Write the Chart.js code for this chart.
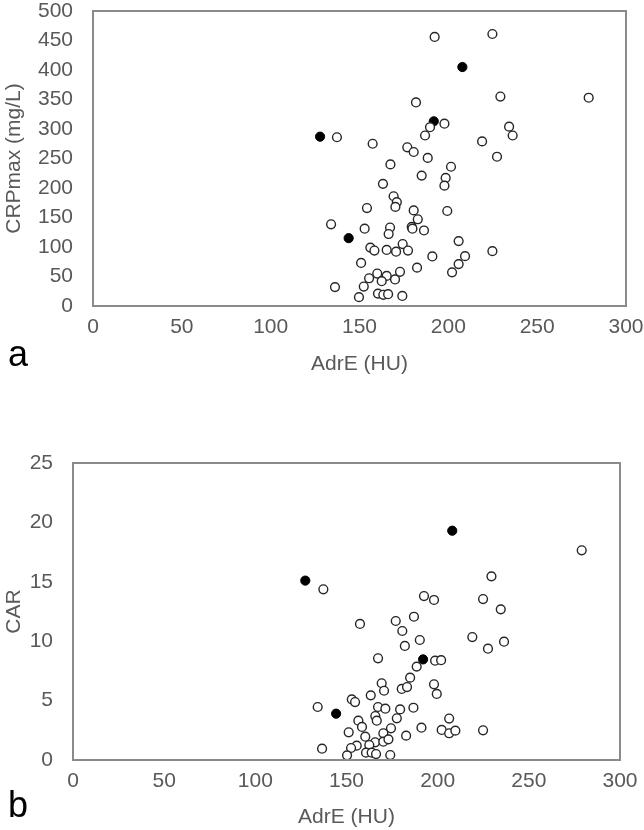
<!DOCTYPE html>
<html>
<head>
<meta charset="utf-8">
<script src="https://cdn.jsdelivr.net/npm/chart.js@4/dist/chart.umd.min.js"></script>
<style>
  body { margin: 0; background: #fff; }
  #wrap { position: relative; width: 644px; height: 830px; overflow: hidden; }
  canvas { position: absolute; left: 0; }
  .panel { position: absolute; font-family: "Liberation Sans", Arial, sans-serif; font-size: 36px; line-height: 36px; color: #000; }
</style>
</head>
<body>
<div id="wrap">
  <canvas id="chartA" width="644" height="380" style="top:0"></canvas>
  <canvas id="chartB" width="644" height="400" style="top:430px"></canvas>
  <div class="panel" style="left:8px; top:336px">a</div>
  <div class="panel" style="left:8px; top:787px">b</div>
</div>
<script>
// ---- data ----
var xTicks = [0, 50, 100, 150, 200, 250, 300];
var crpTicks = [0, 50, 100, 150, 200, 250, 300, 350, 400, 450, 500];
var carTicks = [0, 5, 10, 15, 20, 25];

// panel a: CRPmax vs AdrE
var adrOpenA = [192.3, 224.8, 229.3, 181.8, 279, 197.8, 189.7, 186.9, 234.2, 236.2, 137.3, 157.4, 219, 176.9, 180.5, 188.4,
  227.4, 167.4, 201.5, 185, 198.5, 197.8, 163.2, 169.2, 171, 170.2, 154.2, 180.5, 199.4, 182.8, 134, 152.9,
  167.2, 166.4, 179.4, 179.8, 186.3, 205.8, 224.8, 156.1, 158.4, 165.3, 170.6, 174.3, 177.3, 191, 209.4, 150.9,
  205.8, 202.1, 182.4, 172.8, 160, 165.3, 155.4, 162.5, 170, 152.4, 136.2, 160.4, 163.4, 166.1, 174.1, 149.7];
var crpOpen = [456, 461, 355, 345, 353, 309, 303, 289, 304, 289, 286, 275, 279, 269, 261, 251,
  253, 240, 236, 221, 217, 204, 207, 186, 176, 168, 166, 162, 161, 147, 138.5, 131,
  133, 122, 134, 131, 128, 110, 93, 99, 94, 95, 92, 105, 94, 84, 84.5, 73,
  71, 57, 65, 58, 55, 51, 47, 42, 45, 33, 32, 21, 19, 20, 17, 15];
var adrFilledA = [127.8, 143.9, 191.8, 207.9];
var crpFilled = [287, 115, 313, 405];

// panel b: CAR vs AdrE
var adrOpenB = [229.5, 137.3, 192.5, 198, 224.9, 234.6, 157.4, 177, 187, 180.6, 219, 236.4, 227.6, 190.2, 182, 167.3,
  198.6, 201.9, 188.5, 184.9, 169.3, 170.6, 180.3, 183.2, 198, 199.5, 163.3, 152.9, 154.7, 134.2, 167.3, 171.3,
  179.4, 186.7, 165.8, 166.6, 177.6, 206.3, 156.5, 158.5, 151.2, 174.4, 170.2, 191.1, 202.2, 206.3, 209.7, 224.9,
  182.7, 160.3, 165.7, 162.5, 170.2, 173, 155.6, 152.5, 136.6, 160.7, 163.8, 166.2, 150.3, 174, 279];
var carOpen = [15.46, 14.37, 13.8, 13.47, 13.55, 12.68, 11.45, 11.7, 12.06, 10.86, 10.35, 9.96, 9.37, 10.1, 9.6, 8.56,
  8.36, 8.4, 7.86, 6.93, 6.46, 5.83, 5.98, 6.14, 6.37, 5.56, 5.44, 5.1, 4.88, 4.46, 4.46, 4.32,
  4.26, 4.4, 3.7, 3.31, 3.51, 3.49, 3.31, 2.78, 2.33, 2.67, 2.25, 2.72, 2.53, 2.25, 2.47, 2.5,
  2.05, 1.96, 1.49, 1.26, 1.54, 1.74, 1.21, 1.01, 0.95, 0.62, 0.62, 0.5, 0.39, 0.42, 17.65];
var adrFilledB = [127.4, 144.3, 192, 208];
var carFilled = [15.1, 3.9, 8.47, 19.3];

// ---- helpers ----
var grey = '#595959';
var fontFam = '"Liberation Sans", Arial, sans-serif';

function toPoints(xs, ys) {
  var pts = [];
  for (var i = 0; i < xs.length; i++) pts.push({ x: xs[i], y: ys[i] });
  return pts;
}

// Excel-like plot area frame
var boxPlugin = {
  id: 'box',
  afterDraw: function (chart) {
    var a = chart.chartArea, c = chart.ctx;
    c.save();
    c.strokeStyle = '#8a8a8a';
    c.lineWidth = 2;
    c.strokeRect(a.left, a.top, a.right - a.left, a.bottom - a.top);
    c.restore();
  }
};

function makeChart(id, o) {
  var openSet = {
    data: toPoints(o.xOpen, o.yOpen),
    pointRadius: 4.4,
    pointBackgroundColor: '#fff',
    pointBorderColor: '#262626',
    pointBorderWidth: 1.4
  };
  var filledSet = {
    data: toPoints(o.xFilled, o.yFilled),
    pointRadius: 4.6,
    pointBackgroundColor: '#000',
    pointBorderColor: '#000',
    pointBorderWidth: 1
  };
  return new Chart(document.getElementById(id), {
    type: 'scatter',
    data: { datasets: [openSet, filledSet] },
    options: {
      responsive: false,
      animation: false,
      events: [],
      layout: { padding: o.pad },
      plugins: { legend: { display: false }, tooltip: { enabled: false } },
      scales: {
        x: {
          type: 'linear',
          min: xTicks[0],
          max: xTicks[xTicks.length - 1],
          afterBuildTicks: function (s) { s.ticks = xTicks.map(function (v) { return { value: v }; }); },
          ticks: { color: grey, font: { family: fontFam, size: 21 }, padding: 9, maxRotation: 0 },
          grid: { display: false, drawTicks: false },
          border: { display: false },
          title: { display: true, text: 'AdrE (HU)', color: grey, font: { family: fontFam, size: 21 }, padding: { top: 0, bottom: o.xTitlePad } },
          // keep the plot box where the picture has it
          afterFit: function (s) { s.height = o.xHeight; s.paddingLeft = 0; s.paddingRight = 0; }
        },
        y: {
          min: o.yTicks[0],
          max: o.yTicks[o.yTicks.length - 1],
          afterBuildTicks: function (s) { s.ticks = o.yTicks.map(function (v) { return { value: v }; }); },
          ticks: { color: grey, font: { family: fontFam, size: 21 }, padding: 20 },
          grid: { display: false, drawTicks: false },
          border: { display: false },
          title: { display: true, text: o.yTitle, color: grey, font: { family: fontFam, size: 21 }, padding: { top: 2, bottom: 0 } },
          afterFit: function (s) { s.width = o.yWidth; s.paddingTop = 0; s.paddingBottom = 0; }
        }
      }
    },
    plugins: [boxPlugin]
  });
}

makeChart('chartA', {
  xOpen: adrOpenA, yOpen: crpOpen, xFilled: adrFilledA, yFilled: crpFilled,
  yTicks: crpTicks, yTitle: 'CRPmax (mg/L)',
  pad: { top: 11, right: 18, left: 0, bottom: 0 },
  xHeight: 74, yWidth: 93, xTitlePad: 3
});

makeChart('chartB', {
  xOpen: adrOpenB, yOpen: carOpen, xFilled: adrFilledB, yFilled: carFilled,
  yTicks: carTicks, yTitle: 'CAR',
  pad: { top: 33, right: 24, left: 0, bottom: 0 },
  xHeight: 70, yWidth: 73, xTitlePad: 0
});
</script>
</body>
</html>
